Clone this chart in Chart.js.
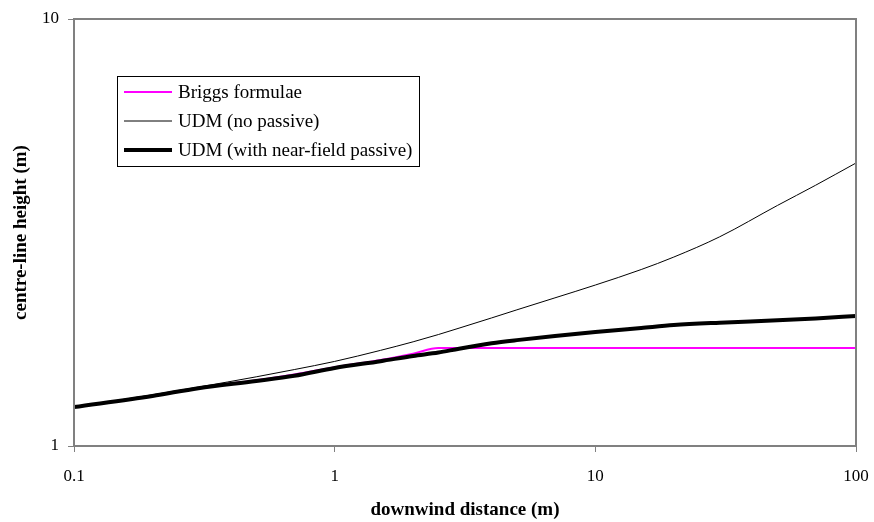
<!DOCTYPE html>
<html>
<head>
<meta charset="utf-8">
<script src="https://cdn.jsdelivr.net/npm/chart.js@4.4.0/dist/chart.umd.min.js"></script>
<style>
  html, body { margin: 0; padding: 0; background: #fff; }
  canvas { display: block; }
</style>
</head>
<body>
<canvas id="plume_chart" width="874" height="522"></canvas>
<script>
// downwind distance (m)
const distance = [0.1, 0.2, 0.3, 0.5, 0.7, 1, 1.5, 2, 2.5, 3, 4, 5, 7, 10, 15, 20, 30, 50, 70, 100];
// centre-line height (m)
const briggs = [1.234, 1.31, 1.368, 1.425, 1.47, 1.53, 1.59, 1.645, 1.696, 1.696, 1.696, 1.696, 1.696, 1.696, 1.696, 1.696, 1.696, 1.696, 1.696, 1.696];
const udmNoPassive = [1.234, 1.318, 1.374, 1.452, 1.51, 1.578, 1.675, 1.754, 1.824, 1.888, 1.995, 2.084, 2.223, 2.382, 2.59, 2.77, 3.09, 3.66, 4.08, 4.60];
const udmNearField = [1.234, 1.31, 1.366, 1.42, 1.46, 1.523, 1.58, 1.625, 1.655, 1.69, 1.74, 1.77, 1.81, 1.849, 1.89, 1.92, 1.945, 1.97, 1.99, 2.016];
const xTicks = [0.1, 1, 10, 100];
const yTicks = [1, 10];

const pts = (ys) => distance.map((d, i) => ({x: d, y: ys[i]}));
const FONT = 'Liberation Serif';

// grey frame round the plot area
const frame = {
  id: 'frame',
  afterDatasetsDraw(chart) {
    const a = chart.chartArea, c = chart.ctx;
    c.save();
    c.strokeStyle = '#808080';
    c.lineWidth = 2;
    c.strokeRect(a.left, a.top, a.right - a.left, a.bottom - a.top);
    c.restore();
  }
};

// boxed legend inside the plot
const boxLegend = {
  id: 'boxLegend',
  afterDraw(chart) {
    const c = chart.ctx;
    const x0 = 117, y0 = 76, w = 302, h = 90;
    c.save();
    c.fillStyle = '#fff';
    c.fillRect(x0, y0, w, h);
    c.strokeStyle = '#000';
    c.lineWidth = 1;
    c.strokeRect(x0 + 0.5, y0 + 0.5, w, h);
    c.font = '19px "' + FONT + '"';
    c.textBaseline = 'middle';
    chart.data.datasets.forEach((ds, i) => {
      const y = 92 + i * 29;
      c.beginPath();
      c.strokeStyle = ds.borderColor;
      c.lineWidth = ds.borderWidth;
      c.moveTo(124, y);
      c.lineTo(172, y);
      c.stroke();
      c.fillStyle = '#000';
      c.fillText(ds.label, 178, y + 1);
    });
    c.restore();
  }
};

const ctx = document.getElementById('plume_chart').getContext('2d');
const myChart = new Chart(ctx, {
  type: 'line',
  data: {
    datasets: [
      {label: 'Briggs formulae', data: pts(briggs), borderColor: '#FF00FF', borderWidth: 2, order: 2},
      {label: 'UDM (no passive)', data: pts(udmNoPassive), borderColor: '#000000', borderWidth: 1, order: 1},
      {label: 'UDM (with near-field passive)', data: pts(udmNearField), borderColor: '#000000', borderWidth: 4, order: 0}
    ]
  },
  options: {
    responsive: false,
    animation: false,
    layout: {padding: {top: 19, right: 18, left: 0, bottom: 0}},
    elements: {point: {radius: 0}, line: {cubicInterpolationMode: 'monotone'}},
    plugins: {legend: {display: false}, tooltip: {enabled: false}},
    scales: {
      x: {
        type: 'logarithmic',
        min: 0.1, max: 100,
        afterBuildTicks: (s) => { s.ticks = xTicks.map(v => ({value: v})); },
        afterFit: (s) => { s.height = 76; s.paddingLeft = 0; s.paddingRight = 0; },
        grid: {drawOnChartArea: false, color: '#808080', tickLength: 6, lineWidth: 1},
        border: {display: false},
        ticks: {color: '#000', padding: 14, maxRotation: 0, font: {family: FONT, size: 17},
          callback: (v) => String(v)},
        title: {display: true, text: 'downwind distance (m)', color: '#000',
          font: {family: FONT, size: 19, weight: 'bold'}, padding: {top: 4, bottom: 1}}
      },
      y: {
        type: 'logarithmic',
        min: 1, max: 10,
        afterBuildTicks: (s) => { s.ticks = yTicks.map(v => ({value: v})); },
        afterFit: (s) => { s.width = 74; s.paddingTop = 0; s.paddingBottom = 0; },
        grid: {drawOnChartArea: false, color: '#808080', tickLength: 6, lineWidth: 1},
        border: {display: false},
        ticks: {color: '#000', padding: 9, font: {family: FONT, size: 17},
          callback: (v) => String(v)},
        title: {display: true, text: 'centre-line height (m)', color: '#000',
          font: {family: FONT, size: 19, weight: 'bold'}, padding: {top: 10, bottom: 4}}
      }
    }
  },
  plugins: [frame, boxLegend]
});
</script>
</body>
</html>
